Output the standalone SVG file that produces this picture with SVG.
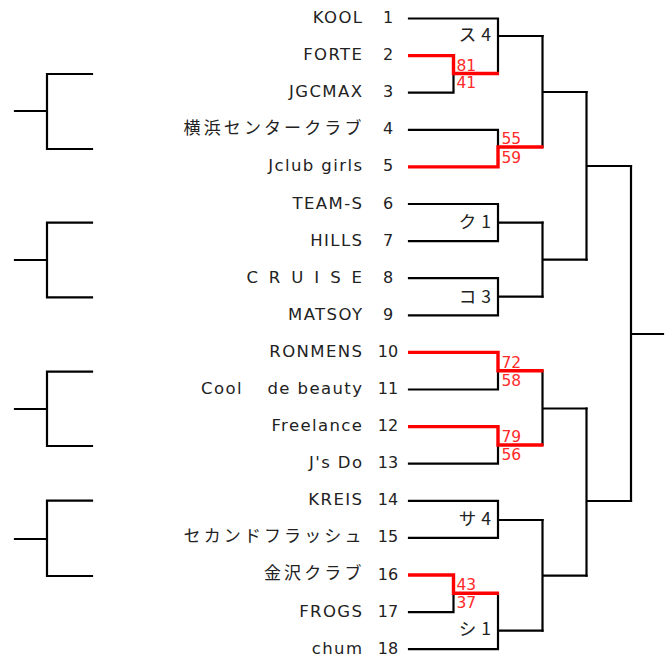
<svg xmlns="http://www.w3.org/2000/svg" width="672" height="659" viewBox="0 0 672 659">
<style>
.bk{fill:none;stroke:#000;stroke-width:2.2;stroke-linecap:square}
.rd{fill:none;stroke:#ff0000;stroke-width:3.4;stroke-linecap:butt}
.nm{font-family:"DejaVu Sans","Noto Sans CJK JP",sans-serif;font-size:16.5px;fill:#222;text-anchor:end;letter-spacing:1.4px}
.jp{font-family:"Noto Sans CJK JP",sans-serif;font-size:17px;fill:#222;text-anchor:end;letter-spacing:3.1px}
.no{font-family:"DejaVu Sans",sans-serif;font-size:16px;fill:#222;text-anchor:middle}
.sc{font-family:"DejaVu Sans",sans-serif;font-size:15.5px;fill:#ff2a2a}
.lb{font-family:"Noto Sans CJK JP",sans-serif;font-size:17.5px;fill:#222;text-anchor:end;letter-spacing:5px}
</style>
<rect width="672" height="659" fill="#fff"/>
<g id="teams">
<g id="t1"><text class="nm" x="363.4" y="23">KOOL</text><text class="no" x="388" y="23">1</text></g>
<g id="t2"><text class="nm" x="363.4" y="60.1">FORTE</text><text class="no" x="388" y="60.1">2</text></g>
<g id="t3"><text class="nm" x="363.4" y="97.2">JGCMAX</text><text class="no" x="388" y="97.2">3</text></g>
<g id="t4"><text class="jp" x="364.5" y="134">横浜センタークラブ</text><text class="no" x="388" y="134.3">4</text></g>
<g id="t5"><text class="nm" x="363.4" y="171.4">Jclub girls</text><text class="no" x="388" y="171.4">5</text></g>
<g id="t6"><text class="nm" x="363.4" y="208.5">TEAM-S</text><text class="no" x="388" y="208.5">6</text></g>
<g id="t7"><text class="nm" x="363.4" y="245.6">HILLS</text><text class="no" x="388" y="245.6">7</text></g>
<g id="t8"><text class="nm" x="363.4" y="282.7" textLength="117" lengthAdjust="spacing">C R U I S E</text><text class="no" x="388" y="282.7">8</text></g>
<g id="t9"><text class="nm" x="363.4" y="319.8">MATSOY</text><text class="no" x="388" y="319.8">9</text></g>
<g id="t10"><text class="nm" x="363.4" y="356.9">RONMENS</text><text class="no" x="388" y="356.9">10</text></g>
<g id="t11"><text class="nm" x="363.4" y="394" xml:space="preserve">Cool　 de beauty</text><text class="no" x="388" y="394">11</text></g>
<g id="t12"><text class="nm" x="363.4" y="431.1">Freelance</text><text class="no" x="388" y="431.1">12</text></g>
<g id="t13"><text class="nm" x="363.4" y="468.2">J's Do</text><text class="no" x="388" y="468.2">13</text></g>
<g id="t14"><text class="nm" x="363.4" y="505.3">KREIS</text><text class="no" x="388" y="505.3">14</text></g>
<g id="t15"><text class="jp" x="364.5" y="542.1">セカンドフラッシュ</text><text class="no" x="388" y="542.4">15</text></g>
<g id="t16"><text class="jp" x="364.5" y="579.2">金沢クラブ</text><text class="no" x="388" y="579.5">16</text></g>
<g id="t17"><text class="nm" x="363.4" y="616.6">FROGS</text><text class="no" x="388" y="616.6">17</text></g>
<g id="t18"><text class="nm" x="363.4" y="653.7">chum</text><text class="no" x="388" y="653.7">18</text></g>
</g>
<g id="connectors">
<path class="bk" d="M92,74 H47 V149 H92 M15,111 H47"/>
<path class="bk" d="M92,222.7 H47 V297.3 H92 M15,260 H47"/>
<path class="bk" d="M92,371.7 H47 V446 H92 M15,409 H47"/>
<path class="bk" d="M92,500.7 H47 V576 H92 M15,539 H47"/>
<path class="bk" d="M409,18.5 H498 V73.5 M409,92.7 H453.5 V73.5 M498,36 H542.5"/>
<path class="bk" d="M409,129.8 H498 V147"/>
<path class="bk" d="M542.5,36 V147 M542.5,92 H586.5"/>
<path class="bk" d="M409,204 H498 V241.1 H409 M498,222.6 H542.5"/>
<path class="bk" d="M409,278.2 H498 V315.3 H409 M498,296.7 H542.5"/>
<path class="bk" d="M542.5,222.6 V296.7 M542.5,259.6 H586.5"/>
<path class="bk" d="M586.5,92 V259.6 M586.5,166 H631"/>
<path class="bk" d="M409,389.5 H498 V370.7"/>
<path class="bk" d="M409,463.7 H498 V445"/>
<path class="bk" d="M542.5,370.7 V445 M542.5,408.5 H586.5"/>
<path class="bk" d="M409,500.8 H498 V537.9 H409 M498,520 H542.5"/>
<path class="bk" d="M409,612.1 H453.5 V593.3 M409,649.2 H498 V593.3 M498,630.7 H542.5"/>
<path class="bk" d="M542.5,520 V630.7 M542.5,575.7 H586.5"/>
<path class="bk" d="M586.5,408.5 V575.7 M586.5,501 H631"/>
<path class="bk" d="M631,166 V501 M631,334 H663"/>
<path class="rd" d="M408,55.6 H453.5 V73.5 H499"/>
<path class="rd" d="M408,166.9 H498 V147 H543.5"/>
<path class="rd" d="M408,352.4 H498 V370.7 H543.5"/>
<path class="rd" d="M408,426.6 H498 V445 H543.5"/>
<path class="rd" d="M408,575 H453.5 V593.3 H499"/>
</g>
<g id="labels">
<text class="lb" x="496" y="41">ス4</text>
<text class="lb" x="496" y="227.5">ク1</text>
<text class="lb" x="496" y="303">コ3</text>
<text class="lb" x="496" y="525">サ4</text>
<text class="lb" x="496" y="635">シ1</text>
<text class="sc" x="456.5" y="70.5">81</text>
<text class="sc" x="456.5" y="88">41</text>
<text class="sc" x="501.5" y="144">55</text>
<text class="sc" x="501.5" y="162.5">59</text>
<text class="sc" x="501.5" y="367.5">72</text>
<text class="sc" x="501.5" y="386">58</text>
<text class="sc" x="501.5" y="441.5">79</text>
<text class="sc" x="501.5" y="459.5">56</text>
<text class="sc" x="456.5" y="589.5">43</text>
<text class="sc" x="456.5" y="607.5">37</text>
</g>
</svg>
